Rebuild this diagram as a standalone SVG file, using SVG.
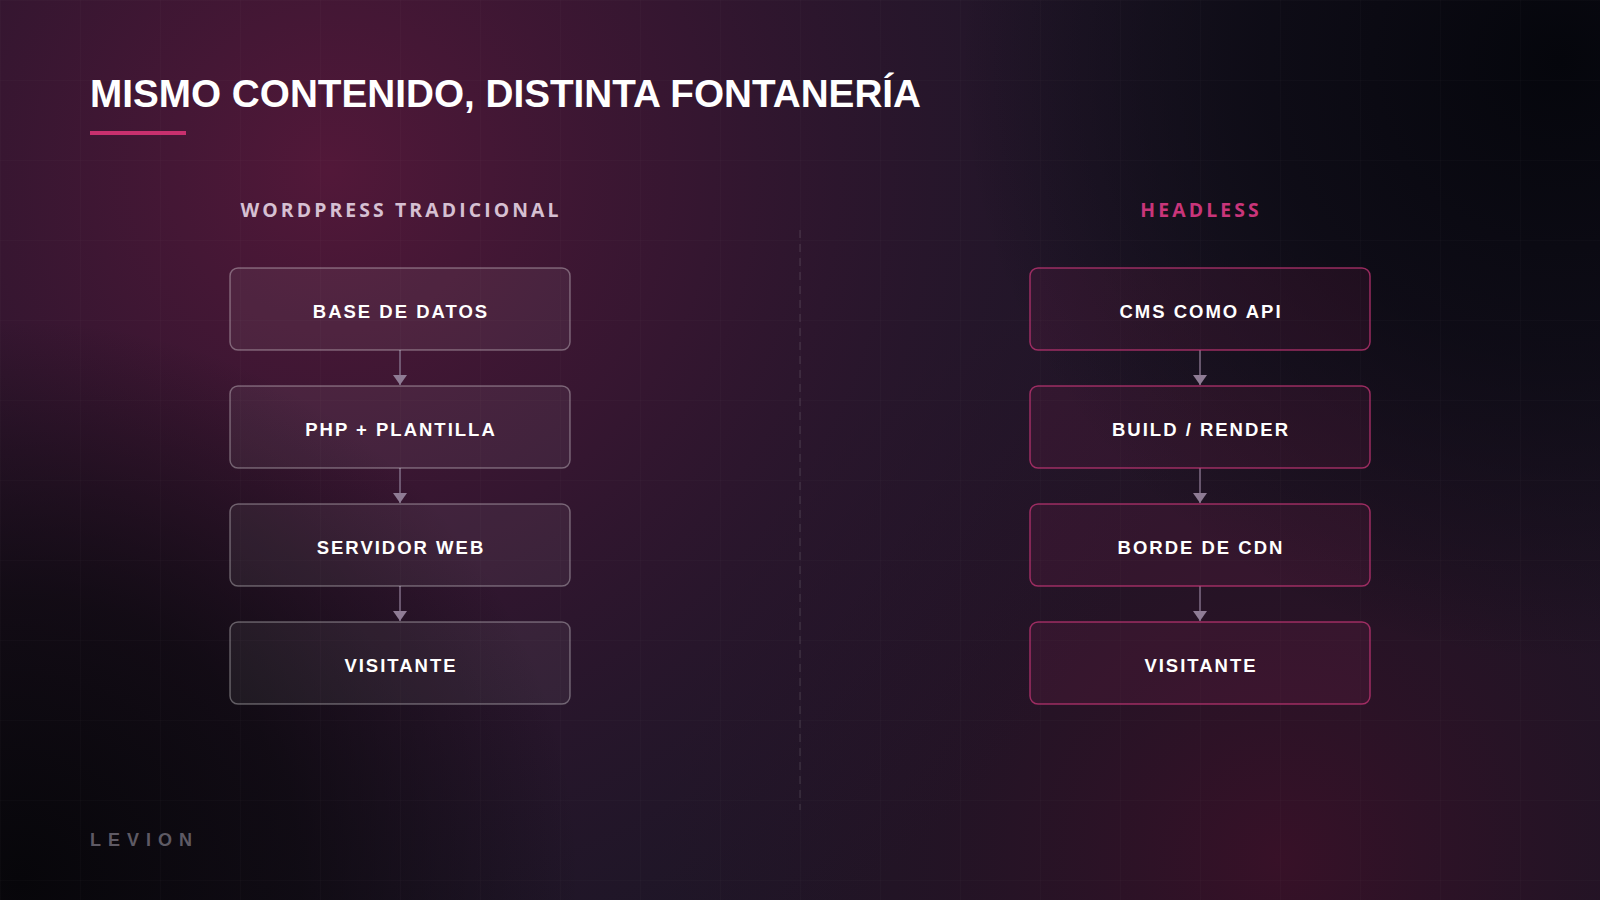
<svg xmlns="http://www.w3.org/2000/svg" width="1600" height="900" viewBox="0 0 1600 900">
  <defs>
    <radialGradient id="gTL" cx="330" cy="170" r="900" gradientUnits="userSpaceOnUse">
      <stop offset="0" stop-color="#521839" stop-opacity="1"/>
      <stop offset="0.4" stop-color="#3e1634" stop-opacity="0.75"/>
      <stop offset="1" stop-color="#2a1530" stop-opacity="0"/>
    </radialGradient>
    <radialGradient id="gTR" cx="1560" cy="60" r="600" gradientUnits="userSpaceOnUse">
      <stop offset="0" stop-color="#05060c" stop-opacity="1"/>
      <stop offset="0.5" stop-color="#080810" stop-opacity="0.7"/>
      <stop offset="1" stop-color="#080810" stop-opacity="0"/>
    </radialGradient>
    <radialGradient id="gBL" cx="20" cy="880" r="560" gradientUnits="userSpaceOnUse">
      <stop offset="0" stop-color="#07060a" stop-opacity="1"/>
      <stop offset="0.5" stop-color="#0a080d" stop-opacity="0.75"/>
      <stop offset="1" stop-color="#0a080d" stop-opacity="0"/>
    </radialGradient>
    <radialGradient id="gBR" cx="1280" cy="860" r="620" gradientUnits="userSpaceOnUse">
      <stop offset="0" stop-color="#3c1028" stop-opacity="0.85"/>
      <stop offset="0.55" stop-color="#2c1024" stop-opacity="0.4"/>
      <stop offset="1" stop-color="#2c1024" stop-opacity="0"/>
    </radialGradient>
    <pattern id="grid" x="0" y="0" width="80" height="80" patternUnits="userSpaceOnUse">
      <path d="M80 0 L0 0 0 80" fill="none" stroke="#ffffff" stroke-opacity="0.03" stroke-width="1"/>
    </pattern>
    <marker id="arrow" viewBox="0 0 10 14" refX="10" refY="7" markerWidth="10" markerHeight="14" markerUnits="userSpaceOnUse" orient="auto">
      <path d="M0 0 L10 7 L0 14 Z" fill="#8f7c95"/>
    </marker>
    <style>
      .title { font-family: "Liberation Sans", Arial, sans-serif; font-weight: 700; font-size: 38.7px; fill: #ffffff; }
      .colhead { font-family: "Open Sans", "Noto Sans", sans-serif; font-weight: 700; font-size: 19.4px; letter-spacing: 3.1px; text-anchor: middle; }
      .lbl { font-family: "Liberation Sans", Arial, sans-serif; font-weight: 700; font-size: 18.5px; letter-spacing: 2px; fill: #ffffff; text-anchor: middle; }
      .boxL { fill: #ffffff; fill-opacity: 0.06; stroke: #ffffff; stroke-opacity: 0.32; stroke-width: 1.5; }
      .boxR { fill: #c8327a; fill-opacity: 0.1; stroke: #c43676; stroke-opacity: 0.75; stroke-width: 1.5; }
      .conn { stroke: #7f6c86; stroke-width: 1.5; fill: none; }
      .brand { font-family: "Liberation Sans", Arial, sans-serif; font-weight: 700; font-size: 18px; letter-spacing: 7px; fill: #5e5a64; }
    </style>
  </defs>

  <!-- background -->
  <rect x="0" y="0" width="1600" height="900" fill="#1d1626"/>
  <rect x="0" y="0" width="1600" height="900" fill="url(#gBR)"/>
  <rect x="0" y="0" width="1600" height="900" fill="url(#gTL)"/>
  <rect x="0" y="0" width="1600" height="900" fill="url(#gTR)"/>
  <rect x="0" y="0" width="1600" height="900" fill="url(#gBL)"/>
  <rect x="0" y="0" width="1600" height="900" fill="url(#grid)"/>

  <!-- title -->
  <text class="title" x="90" y="107">MISMO CONTENIDO, DISTINTA FONTANERÍA</text>
  <rect x="90" y="131" width="96" height="4" fill="#c8306e"/>

  <!-- column headings -->
  <text class="colhead" x="401" y="217" fill="#d6c0d2">WORDPRESS TRADICIONAL</text>
  <text class="colhead" x="1201" y="217" fill="#c9357a">HEADLESS</text>

  <!-- divider -->
  <line x1="800" y1="230" x2="800" y2="810" stroke="#ffffff" stroke-opacity="0.1" stroke-width="1.5" stroke-dasharray="8 6"/>

  <!-- connectors -->
  <g id="connectors">
    <line class="conn" x1="400" y1="350" x2="400" y2="385" marker-end="url(#arrow)"/>
    <line class="conn" x1="400" y1="468" x2="400" y2="503" marker-end="url(#arrow)"/>
    <line class="conn" x1="400" y1="586" x2="400" y2="621" marker-end="url(#arrow)"/>
    <line class="conn" x1="1200" y1="350" x2="1200" y2="385" marker-end="url(#arrow)"/>
    <line class="conn" x1="1200" y1="468" x2="1200" y2="503" marker-end="url(#arrow)"/>
    <line class="conn" x1="1200" y1="586" x2="1200" y2="621" marker-end="url(#arrow)"/>
  </g>

  <!-- left column -->
  <g id="wp-db">
    <rect class="boxL" x="230" y="268" width="340" height="82" rx="8"/>
    <text class="lbl" x="401" y="317.5">BASE DE DATOS</text>
  </g>
  <g id="wp-php">
    <rect class="boxL" x="230" y="386" width="340" height="82" rx="8"/>
    <text class="lbl" x="401" y="435.5">PHP + PLANTILLA</text>
  </g>
  <g id="wp-server">
    <rect class="boxL" x="230" y="504" width="340" height="82" rx="8"/>
    <text class="lbl" x="401" y="553.5">SERVIDOR WEB</text>
  </g>
  <g id="wp-visitor">
    <rect class="boxL" x="230" y="622" width="340" height="82" rx="8"/>
    <text class="lbl" x="401" y="671.5">VISITANTE</text>
  </g>

  <!-- right column -->
  <g id="hl-cms">
    <rect class="boxR" x="1030" y="268" width="340" height="82" rx="8"/>
    <text class="lbl" x="1201" y="317.5">CMS COMO API</text>
  </g>
  <g id="hl-build">
    <rect class="boxR" x="1030" y="386" width="340" height="82" rx="8"/>
    <text class="lbl" x="1201" y="435.5">BUILD / RENDER</text>
  </g>
  <g id="hl-cdn">
    <rect class="boxR" x="1030" y="504" width="340" height="82" rx="8"/>
    <text class="lbl" x="1201" y="553.5">BORDE DE CDN</text>
  </g>
  <g id="hl-visitor">
    <rect class="boxR" x="1030" y="622" width="340" height="82" rx="8"/>
    <text class="lbl" x="1201" y="671.5">VISITANTE</text>
  </g>

  <!-- brand -->
  <text class="brand" x="90" y="846">LEVION</text>
</svg>
